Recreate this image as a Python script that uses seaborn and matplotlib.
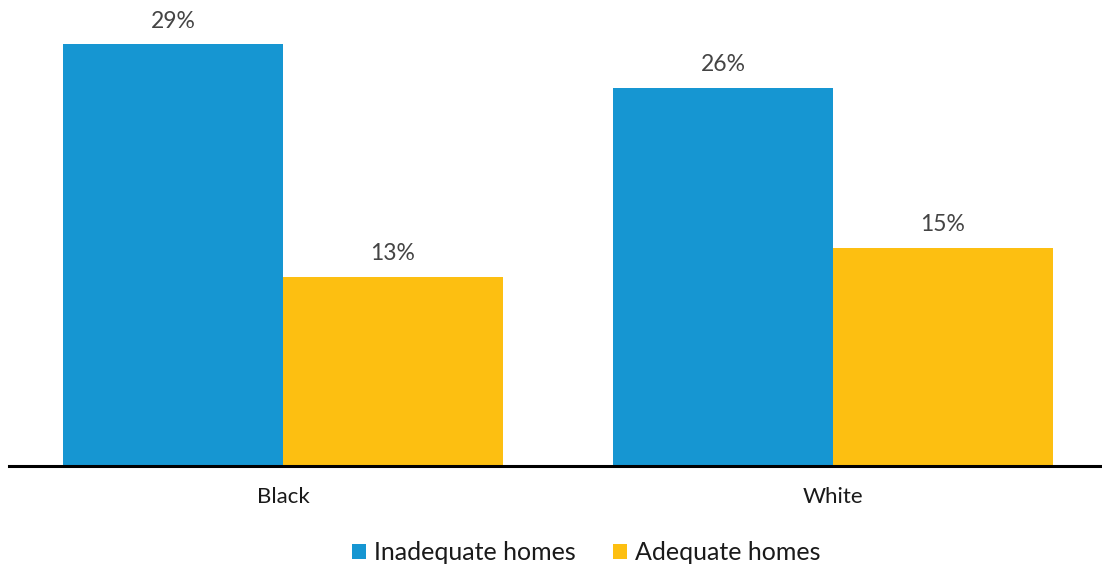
import matplotlib
matplotlib.use("Agg")
import matplotlib.pyplot as plt
import seaborn as sns
import pandas as pd
from matplotlib.patches import Patch

# Share of households, by race and housing adequacy
groups = ["Black", "White"]
series_names = ["Inadequate homes", "Adequate homes"]
inadequate = [29, 26]
adequate = [13, 15]
colors = ["#1696d2", "#fdbf11"]

rows = []
for g, v in zip(groups, inadequate):
    rows.append({"group": g, "series": series_names[0], "value": v})
for g, v in zip(groups, adequate):
    rows.append({"group": g, "series": series_names[1], "value": v})
df = pd.DataFrame(rows)

sns.set_theme(style="white")
plt.rcParams["font.family"] = ["Lato", "DejaVu Sans"]

fig = plt.figure(figsize=(11.02, 5.73), dpi=100)
ax = fig.add_axes([9 / 1102, 1 - 465.5 / 573, 1 - 9 / 1102, 465.5 / 573])

sns.barplot(data=df, x="group", y="value", hue="series", order=groups,
            hue_order=series_names, palette=colors, saturation=1,
            width=0.8, linewidth=0, ax=ax, legend=False)

ax.set_xlim(-0.498, 1.489)
ax.set_ylim(0, 32.06)
ax.set_xlabel("")
ax.set_ylabel("")
ax.set_yticks([])
for s in ["top", "right", "left"]:
    ax.spines[s].set_visible(False)
ax.spines["bottom"].set_color("black")
ax.spines["bottom"].set_linewidth(2.2)
ax.tick_params(axis="x", length=0, pad=15.5, labelsize=16, labelcolor="#1a1a1a")

for container in ax.containers:
    for bar in container:
        h = bar.get_height()
        ax.annotate(f"{h:.0f}%", (bar.get_x() + bar.get_width() / 2, h),
                    xytext=(0, 12), textcoords="offset points",
                    ha="center", va="baseline", fontsize=16.5, color="#444444")

handles = [Patch(facecolor=c, edgecolor="none") for c in colors]
fig.legend(handles, series_names, loc="center", ncol=2,
           bbox_to_anchor=(586 / 1102, 1 - 553 / 573), frameon=False,
           fontsize=18, handlelength=0.58, handleheight=0.58,
           handletextpad=0.3, columnspacing=1.5, labelcolor="#1a1a1a")

fig.savefig("out.png", dpi=100)
